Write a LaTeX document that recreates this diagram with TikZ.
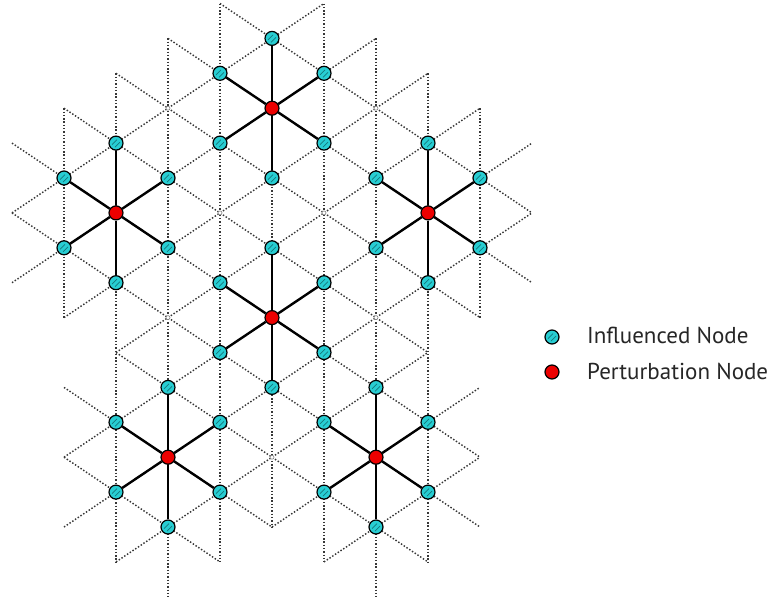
\documentclass[tikz,border=0pt]{standalone}
\usepackage{fontspec}
\setmainfont{PT Sans}
\definecolor{infl}{RGB}{40,205,210}
\definecolor{infldark}{RGB}{20,120,125}
\definecolor{pert}{RGB}{236,0,0}
\definecolor{gridgray}{RGB}{55,55,55}
\tikzset{
  lattice/.style={draw=gridgray, line width=1.45pt, dash pattern=on 1.45pt off 1.85pt},
  spoke/.style={draw=black, line width=2.4pt},
  influenced/.style={circle, draw=black, line width=1.2pt, fill=infl, minimum size=14pt, inner sep=0pt,
    path picture={
      \draw[infldark, line width=0.7pt]
        ([shift={(-4pt,-1.5pt)}]path picture bounding box.center) -- ++(5pt,5pt)
        ([shift={(-1pt,-4pt)}]path picture bounding box.center) -- ++(5pt,5pt);
    }},
  perturb/.style={circle, draw=black, line width=1.2pt, fill=pert, minimum size=14pt, inner sep=0pt},
  idle/.style={circle, draw=gray, line width=0.6pt, fill=white, minimum size=4pt, inner sep=0pt},
  legendtext/.style={anchor=base west, font=\fontsize{23}{27}\selectfont, inner sep=0pt, text=black!85}
}
\begin{document}
\begin{tikzpicture}[x=1pt, y=-1pt]
\useasboundingbox (0,0) rectangle (769,598);
% lattice points: column c, row r
\foreach \c in {0,...,10}{
  \foreach \r in {0,...,17}{
    \coordinate (p\c-\r) at ({12+52*\c},{3.5+34.9*\r});
  }
}
% vertical lattice lines
\draw[lattice] (p1-3) -- (p1-9);
\draw[lattice] (p2-2) -- (p2-16);
\draw[lattice] (p3-1) -- (p3-17);
\draw[lattice] (p4-0) -- (p4-16);
\draw[lattice] (p5-1) -- (p5-15);
\draw[lattice] (p6-0) -- (p6-16);
\draw[lattice] (p7-1) -- (p7-17);
\draw[lattice] (p8-2) -- (p8-16);
\draw[lattice] (p9-3) -- (p9-9);
% descending lattice lines
\draw[lattice] (p4-0) -- (p10-6);
\draw[lattice] (p3-1) -- (p10-8);
\draw[lattice] (p2-2) -- (p9-9);
\draw[lattice] (p1-3) -- (p8-10);
\draw[lattice] (p0-4) -- (p9-13);
\draw[lattice] (p0-6) -- (p9-15);
\draw[lattice] (p2-10) -- (p8-16);
\draw[lattice] (p1-11) -- (p5-15);
\draw[lattice] (p1-13) -- (p4-16);
% ascending lattice lines
\draw[lattice] (p0-6) -- (p6-0);
\draw[lattice] (p0-8) -- (p7-1);
\draw[lattice] (p1-9) -- (p8-2);
\draw[lattice] (p2-10) -- (p9-3);
\draw[lattice] (p1-13) -- (p10-4);
\draw[lattice] (p1-15) -- (p10-6);
\draw[lattice] (p2-16) -- (p8-10);
\draw[lattice] (p5-15) -- (p9-11);
\draw[lattice] (p6-16) -- (p9-13);
% untouched lattice sites
\foreach \c/\r in {3/3,7/3,4/6,6/6,3/9,7/9,5/13}{
  \node[idle] (g\c-\r) at (p\c-\r) {};
}
% perturbation nodes with their six influenced neighbours
\foreach \cc/\rr in {5/3,2/6,8/6,5/9,3/13,7/13}{
  \node[perturb] (R\cc-\rr) at (p\cc-\rr) {};
  \foreach \dc/\dr in {0/-2,1/-1,1/1,0/2,-1/1,-1/-1}{
    \pgfmathtruncatemacro\nc{\cc+\dc}
    \pgfmathtruncatemacro\nr{\rr+\dr}
    \node[influenced] (I\nc-\nr) at (p\nc-\nr) {};
    \draw[spoke] (R\cc-\rr) -- (I\nc-\nr);
  }
}
% legend
\node[influenced] (keyI) at (552,337) {};
\node[legendtext] (keyIt) at (587,343) {Influenced Node};
\node[perturb] (keyP) at (552,372) {};
\node[legendtext] (keyPt) at (587,379) {Perturbation Node};
\end{tikzpicture}
\end{document}
